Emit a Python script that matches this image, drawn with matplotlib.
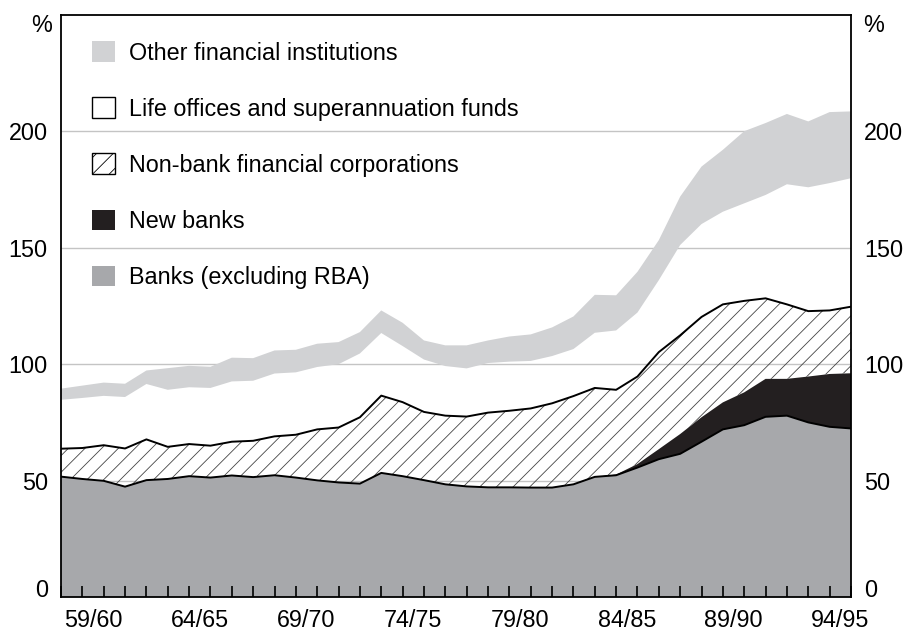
import numpy as np
import matplotlib
matplotlib.use("Agg")
import matplotlib.pyplot as plt
from matplotlib.patches import Patch

plt.rcParams['font.family'] = ['Liberation Sans', 'DejaVu Sans']
plt.rcParams['hatch.linewidth'] = 0.6

# end of financial year, June 1958 .. June 1995
years = list(range(1958, 1996))

banks = [51.7, 50.7, 49.9, 47.4, 50.2, 50.7, 51.9, 51.3, 52.2, 51.5,
         52.3, 51.3, 50.1, 49.2, 48.7, 53.3, 51.9, 50.2, 48.4, 47.5,
         47.1, 47.1, 47.0, 47.0, 48.4, 51.6, 52.3, 55.6, 59.2, 61.5,
         66.7, 72.0, 73.8, 77.4, 77.9, 75.0, 73.1, 72.4]
new_banks = [0] * 26 + [0.3, 1.5, 4.3, 8.5, 10.5, 11.6, 14.1, 16.3,
                        15.8, 19.7, 22.7, 23.7]
nbfc = [12.0, 13.3, 15.3, 16.4, 17.5, 13.8, 13.8, 13.7, 14.5, 15.6,
        16.7, 18.4, 21.9, 23.6, 28.5, 33.2, 31.8, 29.3, 29.5, 30.0,
        32.1, 32.9, 34.0, 36.2, 37.9, 38.2, 36.4, 37.6, 41.7, 42.4,
        43.1, 42.1, 39.3, 34.6, 32.0, 28.1, 27.3, 28.6]
life = [21.0, 21.5, 21.2, 22.1, 23.8, 24.5, 24.4, 24.8, 25.9, 25.8,
        27.0, 26.8, 26.8, 27.2, 27.4, 26.9, 24.1, 22.5, 21.3, 20.7,
        21.3, 21.1, 20.4, 20.3, 20.2, 23.7, 25.5, 27.5, 30.9, 38.8,
        39.9, 39.8, 41.9, 44.4, 51.6, 53.2, 54.7, 55.2]
other = [4.8, 5.3, 5.7, 5.7, 5.8, 9.3, 9.2, 9.1, 10.2, 9.7,
         9.9, 9.7, 10.0, 9.5, 9.2, 9.7, 10.0, 8.2, 8.9, 9.9,
         9.7, 10.8, 11.4, 12.3, 14.0, 16.3, 15.1, 17.5, 17.2, 20.8,
         24.7, 26.6, 31.0, 30.9, 30.2, 28.3, 30.5, 28.7]

xlabels = ['59/60', '64/65', '69/70', '74/75', '79/80', '84/85', '89/90', '94/95']
xlabel_pos = [1959.5, 1964.5, 1969.5, 1974.5, 1979.5, 1984.5, 1989.5, 1994.5]

c_banks = '#a7a8ab'
c_new = '#231f20'
c_other = '#d1d2d4'
fs = 16.8

x = np.array(years)
b = np.array(banks)
l1 = b + np.array(new_banks)
l2 = l1 + np.array(nbfc)
l3 = l2 + np.array(life)
l4 = l3 + np.array(other)

fig = plt.figure(figsize=(9.05, 6.31), dpi=100)
ax = fig.add_axes([0.0674, 0.0539, 0.8729, 0.9223])

for v in [50, 100, 150, 200]:
    ax.axhline(v, color='#c4c4c4', lw=1.0, zorder=0)

ax.fill_between(x, 0, b, facecolor=c_banks, lw=0, zorder=1)
ax.fill_between(x, b, l1, facecolor=c_new, lw=0, zorder=1)
ax.fill_between(x, l1, l2, facecolor='none', edgecolor='#444444', hatch='//', lw=0, zorder=1)
ax.fill_between(x, l3, l4, facecolor=c_other, lw=0, zorder=1)
ax.plot(x, b, color='black', lw=1.4, zorder=2)
ax.plot(x, l2, color='black', lw=1.4, zorder=2)

ax.set_xlim(1958, 1995)
ax.set_ylim(0, 250)

ax.set_xticks(years)
ax.set_xticklabels([])
ax.set_xticks(xlabel_pos, minor=True)
ax.set_xticklabels(xlabels, minor=True)
ax.tick_params(axis='x', which='major', direction='in', length=8, width=1.2, color='black')
ax.tick_params(axis='x', which='minor', length=0, pad=9, labelsize=fs)

ax.set_yticks([0, 50, 100, 150, 200])
ax.tick_params(axis='y', which='both', left=False, right=False,
               labelleft=True, labelright=True, labelsize=fs, pad=6)
zt = ax.yaxis.get_major_ticks()[0]
zt.label1.set_verticalalignment('baseline')
zt.label2.set_verticalalignment('baseline')

for s in ax.spines.values():
    s.set_linewidth(1.3)
    s.set_zorder(3)

fig.text(42 / 905, 1 - 25 / 631, '%', fontsize=fs, ha='center', va='center')
fig.text(874 / 905, 1 - 25 / 631, '%', fontsize=fs, ha='center', va='center')

handles = [
    Patch(facecolor=c_other, edgecolor='none', label='Other financial institutions'),
    Patch(facecolor='white', edgecolor='black', lw=1.0, label='Life offices and superannuation funds'),
    Patch(facecolor='white', edgecolor='black', lw=1.0, hatch='//', label='Non-bank financial corporations'),
    Patch(facecolor=c_new, edgecolor='none', label='New banks'),
    Patch(facecolor=c_banks, edgecolor='none', label='Banks (excluding RBA)'),
]
ax.legend(handles=handles, loc='upper left', bbox_to_anchor=(0.039, 0.955),
          frameon=False, fontsize=fs, handlelength=1.0, handleheight=1.0,
          handletextpad=0.6, labelspacing=1.4, borderpad=0, borderaxespad=0)

fig.savefig('out.png', dpi=100)
